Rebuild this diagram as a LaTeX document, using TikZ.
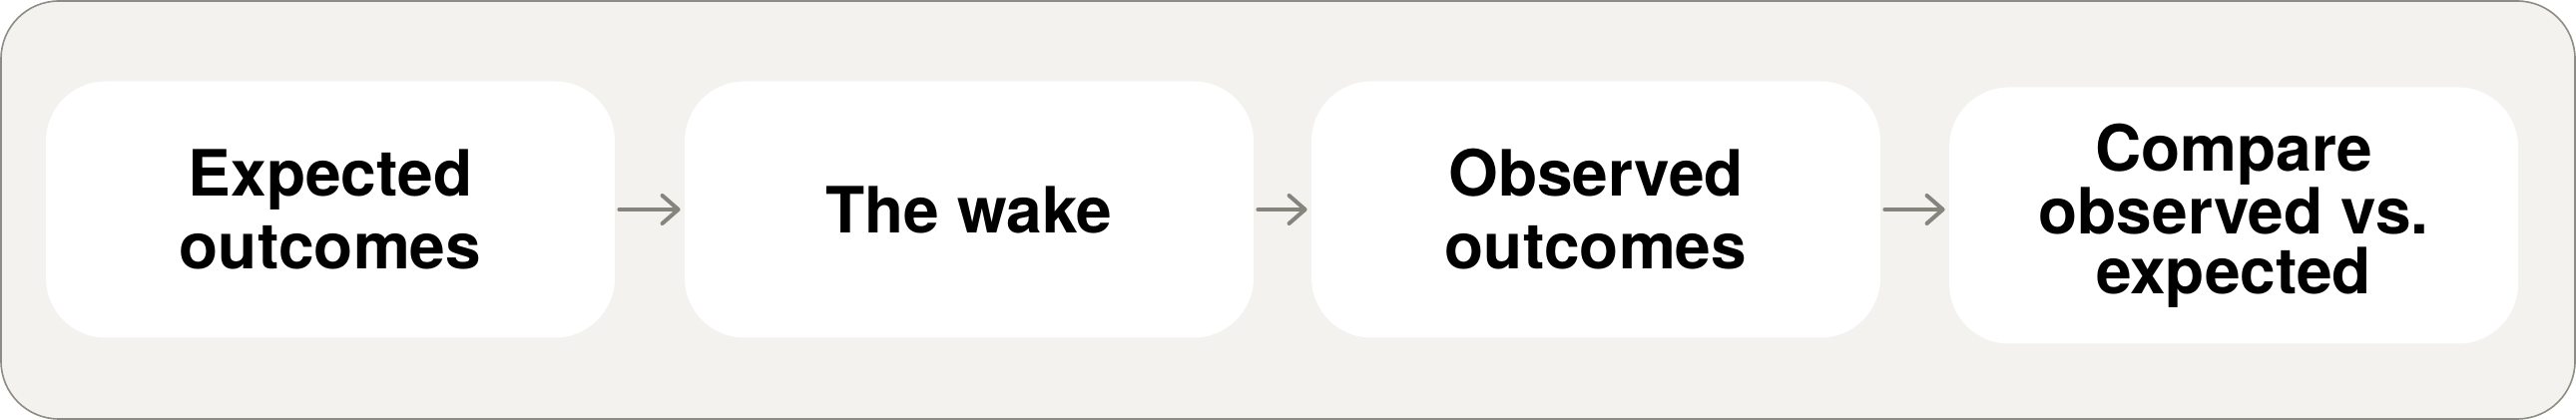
\documentclass[tikz,border=0pt]{standalone}
\usepackage{fontspec}
\setmainfont{TeX Gyre Heros}
\usetikzlibrary{arrows.meta}

\definecolor{panelbg}{HTML}{F3F2EE}
\definecolor{panelline}{HTML}{8E8D85}
\definecolor{arrowgray}{HTML}{86857D}

\begin{document}
\begin{tikzpicture}[x=0.5pt, y=-0.5pt,
  stepbox/.style={fill=white, rounded corners=30pt, minimum width=285pt,
    minimum height=128.5pt, align=center, font=\fontsize{32}{36.5}\selectfont\bfseries},
  flow/.style={draw=arrowgray, line width=2pt, line cap=round,
    -{Straight Barb[length=8pt, width=14pt, line cap=round, line join=round]}}]

% Define row heights for the boxes
\def\rowa{210}
\def\rowb{216}

% Outer panel
\draw[fill=panelbg, draw=panelline, line width=0.8pt, rounded corners=29pt]
  (1,1) rectangle (2580,420);
\useasboundingbox (0,0) rectangle (2581,421);

% Steps
\node[stepbox] (expected) at (331, \rowa) {Expected\\outcomes};
\node[stepbox] (wake) at (971, \rowa) {The wake};
\node[stepbox] (observed) at (1599, \rowa) {Observed\\outcomes};
\node[stepbox, font=\fontsize{32}{30}\selectfont\bfseries] (compare) at (2238, \rowb)
  {Compare\\observed vs.\\expected};

% Arrows between steps
\draw[flow] ([xshift=2pt]expected.east) -- ([xshift=-2pt]wake.west);
\draw[flow] ([xshift=2pt]wake.east) -- ([xshift=-2pt]observed.west);
\draw[flow] ([xshift=2pt]observed.east) -- ([xshift=-2pt]compare.west |- observed.east);

\end{tikzpicture}
\end{document}
